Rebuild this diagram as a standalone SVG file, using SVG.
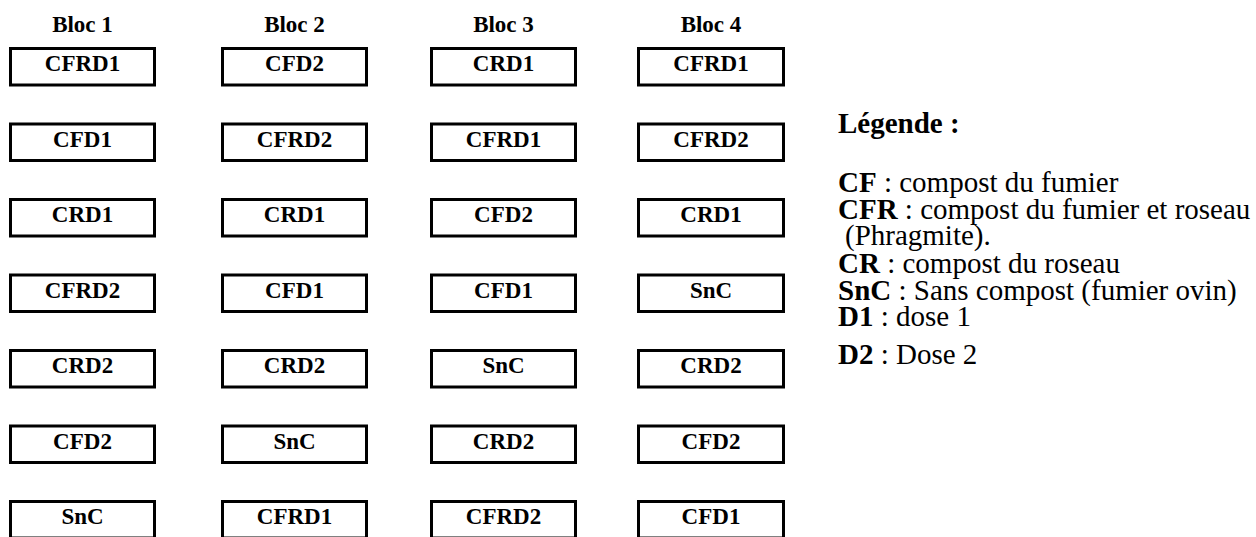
<svg xmlns="http://www.w3.org/2000/svg" width="1256" height="537" viewBox="0 0 1256 537">
<style>
.box{fill:#fff;stroke:#000;stroke-width:3}
.t{font-family:"Liberation Serif","Times New Roman",serif;font-weight:bold;font-size:23px;text-anchor:middle;fill:#000}
.h{font-family:"Liberation Serif","Times New Roman",serif;font-weight:bold;font-size:23px;text-anchor:middle;fill:#000}
.lg{font-family:"Liberation Serif","Times New Roman",serif;font-size:29px;fill:#000}
.b{font-weight:bold}
</style>
<rect width="1256" height="537" fill="#fff"/>
<g id="headers">
<text class="h" x="82.5" y="31.5">Bloc 1</text>
<text class="h" x="294.5" y="31.5">Bloc 2</text>
<text class="h" x="503.5" y="31.5">Bloc 3</text>
<text class="h" x="711" y="31.5">Bloc 4</text>
</g>
<g id="b1r1"><rect class="box" x="10.5" y="48.5" width="144" height="36.5"/><text class="t" x="82.5" y="71">CFRD1</text></g>
<g id="b2r1"><rect class="box" x="222.5" y="48.5" width="144" height="36.5"/><text class="t" x="294.5" y="71">CFD2</text></g>
<g id="b3r1"><rect class="box" x="431.5" y="48.5" width="144" height="36.5"/><text class="t" x="503.5" y="71">CRD1</text></g>
<g id="b4r1"><rect class="box" x="638.5" y="48.5" width="145" height="36.5"/><text class="t" x="711" y="71">CFRD1</text></g>

<g id="b1r2"><rect class="box" x="10.5" y="124" width="144" height="36.5"/><text class="t" x="82.5" y="146.5">CFD1</text></g>
<g id="b2r2"><rect class="box" x="222.5" y="124" width="144" height="36.5"/><text class="t" x="294.5" y="146.5">CFRD2</text></g>
<g id="b3r2"><rect class="box" x="431.5" y="124" width="144" height="36.5"/><text class="t" x="503.5" y="146.5">CFRD1</text></g>
<g id="b4r2"><rect class="box" x="638.5" y="124" width="145" height="36.5"/><text class="t" x="711" y="146.5">CFRD2</text></g>

<g id="b1r3"><rect class="box" x="10.5" y="199.5" width="144" height="36.5"/><text class="t" x="82.5" y="222">CRD1</text></g>
<g id="b2r3"><rect class="box" x="222.5" y="199.5" width="144" height="36.5"/><text class="t" x="294.5" y="222">CRD1</text></g>
<g id="b3r3"><rect class="box" x="431.5" y="199.5" width="144" height="36.5"/><text class="t" x="503.5" y="222">CFD2</text></g>
<g id="b4r3"><rect class="box" x="638.5" y="199.5" width="145" height="36.5"/><text class="t" x="711" y="222">CRD1</text></g>

<g id="b1r4"><rect class="box" x="10.5" y="275" width="144" height="36.5"/><text class="t" x="82.5" y="297.5">CFRD2</text></g>
<g id="b2r4"><rect class="box" x="222.5" y="275" width="144" height="36.5"/><text class="t" x="294.5" y="297.5">CFD1</text></g>
<g id="b3r4"><rect class="box" x="431.5" y="275" width="144" height="36.5"/><text class="t" x="503.5" y="297.5">CFD1</text></g>
<g id="b4r4"><rect class="box" x="638.5" y="275" width="145" height="36.5"/><text class="t" x="711" y="297.5">SnC</text></g>

<g id="b1r5"><rect class="box" x="10.5" y="350.5" width="144" height="36.5"/><text class="t" x="82.5" y="373">CRD2</text></g>
<g id="b2r5"><rect class="box" x="222.5" y="350.5" width="144" height="36.5"/><text class="t" x="294.5" y="373">CRD2</text></g>
<g id="b3r5"><rect class="box" x="431.5" y="350.5" width="144" height="36.5"/><text class="t" x="503.5" y="373">SnC</text></g>
<g id="b4r5"><rect class="box" x="638.5" y="350.5" width="145" height="36.5"/><text class="t" x="711" y="373">CRD2</text></g>

<g id="b1r6"><rect class="box" x="10.5" y="426" width="144" height="36.5"/><text class="t" x="82.5" y="448.5">CFD2</text></g>
<g id="b2r6"><rect class="box" x="222.5" y="426" width="144" height="36.5"/><text class="t" x="294.5" y="448.5">SnC</text></g>
<g id="b3r6"><rect class="box" x="431.5" y="426" width="144" height="36.5"/><text class="t" x="503.5" y="448.5">CRD2</text></g>
<g id="b4r6"><rect class="box" x="638.5" y="426" width="145" height="36.5"/><text class="t" x="711" y="448.5">CFD2</text></g>

<g id="b1r7"><rect class="box" x="10.5" y="501.5" width="144" height="36.5"/><text class="t" x="82.5" y="524">SnC</text></g>
<g id="b2r7"><rect class="box" x="222.5" y="501.5" width="144" height="36.5"/><text class="t" x="294.5" y="524">CFRD1</text></g>
<g id="b3r7"><rect class="box" x="431.5" y="501.5" width="144" height="36.5"/><text class="t" x="503.5" y="524">CFRD2</text></g>
<g id="b4r7"><rect class="box" x="638.5" y="501.5" width="145" height="36.5"/><text class="t" x="711" y="524">CFD1</text></g>

<g id="legend">
<text class="lg b" x="838" y="133">Légende :</text>
<text class="lg" x="838" y="191.5"><tspan class="b">CF</tspan> : compost du fumier</text>
<text class="lg" x="838" y="219"><tspan class="b">CFR</tspan> : compost du fumier et roseau</text>
<text class="lg" x="845" y="245">(Phragmite).</text>
<text class="lg" x="838" y="273"><tspan class="b">CR</tspan> : compost du roseau</text>
<text class="lg" x="838" y="299.5"><tspan class="b">SnC</tspan> : Sans compost (fumier ovin)</text>
<text class="lg" x="838" y="326"><tspan class="b">D1</tspan> : dose 1</text>
<text class="lg" x="838" y="364"><tspan class="b">D2</tspan> : Dose 2</text>
</g>
</svg>
